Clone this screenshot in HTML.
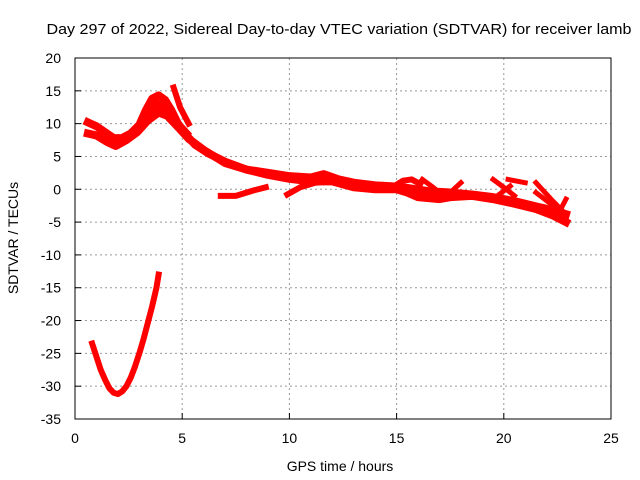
<!DOCTYPE html>
<html><head><meta charset="utf-8"><style>
body{margin:0;background:#fff}
svg{display:block;font-family:"Liberation Sans",sans-serif}
</style></head><body>
<svg id="chart" width="640" height="480">
<text x="339" y="34" font-size="15" text-anchor="middle" textLength="585" lengthAdjust="spacingAndGlyphs">Day 297 of 2022, Sidereal Day-to-day VTEC variation (SDTVAR) for receiver lamb</text>
<text x="340" y="471" font-size="14" text-anchor="middle">GPS time / hours</text>
<text transform="translate(18,238) rotate(-90)" font-size="14" text-anchor="middle">SDTVAR / TECUs</text>
<g id="grid"></g><g id="series"></g>
<rect x="75" y="58" width="536" height="361" fill="none" stroke="#000" stroke-width="1"/>
</svg>
<script>
const xTicks=[0,5,10,15,20,25];
const yTicks=[20,15,10,5,0,-5,-10,-15,-20,-25,-30,-35];
const seriesUpper=[[0.6,10.2],[1.0,9.6],[1.4,8.7],[1.8,7.8],[2.2,7.8],[2.6,8.5],[3.0,9.8],[3.3,12],[3.6,13.8],[3.9,14.3],[4.2,13.6],[4.5,12],[4.8,10],[5.2,8.2],[5.6,6.8],[6.2,5.5],[7,4.2],[8,3],[9,2.5],[10,2],[11,1.8],[11.6,2.3],[12.3,1.5],[13,1],[14,0.6],[15,0.4],[15.5,0.2],[16.5,-0.3],[17.5,-0.5],[18.5,-0.8],[19.5,-1.2],[20.5,-1.8],[21.5,-2.6],[22.3,-3.2],[22.9,-3.8]];
const seriesMid=[[2.8,9],[3.3,11],[3.8,13],[4.2,12.5],[4.7,10.3],[5.2,8.5]];
const seriesLower=[[0.6,8.5],[1.0,8.2],[1.5,7.2],[1.9,6.6],[2.4,7.5],[2.9,8.7],[3.4,10.5],[3.9,11.7],[4.3,11.2],[4.8,9.5],[5.3,7.7],[6,6],[7,4],[8,3],[9,2.2],[10,1.6],[11,1.2],[12,1.2],[13,0.3],[14,0],[15,0],[15.5,-0.5],[16,-1.2],[17,-1.5],[17.5,-1.2],[18.5,-1],[19.5,-1.5],[20.5,-2.2],[21.5,-3],[22.3,-4],[22.9,-5]];
const seriesSpike=[[4.6,15.5],[4.9,12.5],[5.3,10]];
const seriesBranchA=[[6.8,-1],[7.5,-1],[8.3,-0.2],[8.9,0.3]];
const seriesBranchB=[[9.9,-0.8],[10.5,0.3],[11.2,1],[12,1.2]];
const seriesBump=[[14.8,0.3],[15.3,1.3],[15.7,1.5],[16.1,0.8]];
const seriesForks=[
 [[16.2,1.5],[16.7,0.3],[17,-0.5]],[[17.5,-0.5],[18,1]],[[19.5,1.5],[20,0.3],[20.5,-1]],[[20.2,1.5],[21,1]],
 [[20.3,0.5],[19.9,-0.5],[19.5,-1.5]],[[21.5,-0.5],[22.5,-3]],[[21.5,1],[22.2,-1.5],[22.8,-3.5]],[[22.5,-4],[22.9,-1.5]]];
const seriesNeg=[[0.8,-23.5],[1.0,-25.5],[1.2,-27.5],[1.4,-29],[1.6,-30.3],[1.8,-31],[2.0,-31.2],[2.2,-30.8],[2.4,-30],[2.6,-28.7],[2.8,-27],[3.0,-25],[3.2,-22.8],[3.4,-20.3],[3.6,-17.8],[3.8,-15],[3.9,-13]];

const NS="http://www.w3.org/2000/svg";
const X=h=>75+h*536/25;
const Y=v=>58+(20-v)*361/55;
const grid=document.getElementById('grid'), ser=document.getElementById('series');
function mk(t,a,p){const e=document.createElementNS(NS,t);for(const k in a)e.setAttribute(k,a[k]);p.appendChild(e);return e;}
xTicks.forEach(t=>{
 if(t>0&&t<25){const l=mk('line',{x1:X(t),x2:X(t),y1:58,y2:419,stroke:'#999','stroke-dasharray':'2,3'},grid);
 
 }
 const tk=mk('line',{x1:X(t),x2:X(t),y1:419,y2:413,stroke:'#000'},grid);
 
 
 const tx=mk('text',{x:X(t),y:443,'font-size':14,'text-anchor':'middle'},grid);tx.textContent=t;
 
 
});
yTicks.forEach(t=>{
 if(t<20&&t>-35){const l=mk('line',{x1:75,x2:611,y1:Y(t),y2:Y(t),stroke:'#999','stroke-dasharray':'2,3'},grid);
 
 }
 const tk=mk('line',{x1:75,x2:81,y1:Y(t),y2:Y(t),stroke:'#000'},grid);
 
 
 const tx=mk('text',{x:61,y:Y(t)+5,'font-size':14,'text-anchor':'end'},grid);tx.textContent=t;
 
 
});
function draw(pts,w,name){
 const p=mk('polyline',{points:pts.map(d=>X(d[0])+','+Y(d[1])).join(' '),fill:'none',stroke:'#f00','stroke-width':w,'stroke-linejoin':'round','stroke-linecap':'square'},ser);
 
 
}
draw(seriesUpper,8,'series-upper');
draw(seriesMid,8,'series-middle');
draw(seriesLower,8,'series-lower');
draw(seriesSpike,6,'series-spike');
draw(seriesBranchA,6,'series-branch-a');
draw(seriesBranchB,6,'series-branch-b');
draw(seriesBump,6,'series-bump');
seriesForks.forEach(f=>draw(f,5,'series-fork'));
draw(seriesNeg,6,'series-negative-arc');
</script>
</body></html>
